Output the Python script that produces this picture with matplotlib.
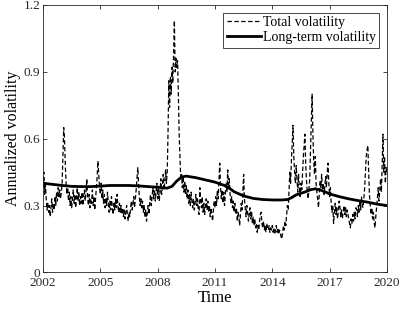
import numpy as np
import matplotlib
matplotlib.use("Agg")
import matplotlib.pyplot as plt

plt.rcParams['font.family'] = ['Liberation Serif', 'DejaVu Serif']

# total volatility, 24 readings per year, 2002.0 .. 2020.0
row2002 = [0.38, 0.45, 0.35, 0.40, 0.33, 0.28, 0.31, 0.27, 0.30, 0.25, 0.29, 0.33, 0.27, 0.31, 0.28, 0.34, 0.30, 0.36, 0.32, 0.38, 0.34, 0.37, 0.33, 0.36]
row2003 = [0.40, 0.52, 0.65, 0.60, 0.48, 0.40, 0.35, 0.38, 0.32, 0.36, 0.30, 0.34, 0.29, 0.33, 0.37, 0.31, 0.35, 0.29, 0.33, 0.38, 0.32, 0.36, 0.30, 0.34]
row2004 = [0.31, 0.36, 0.30, 0.34, 0.37, 0.32, 0.36, 0.42, 0.34, 0.30, 0.35, 0.29, 0.33, 0.31, 0.37, 0.30, 0.34, 0.28, 0.33, 0.38, 0.43, 0.50, 0.44, 0.38]
row2005 = [0.35, 0.40, 0.33, 0.37, 0.31, 0.35, 0.29, 0.33, 0.30, 0.36, 0.31, 0.27, 0.32, 0.28, 0.34, 0.29, 0.26, 0.31, 0.28, 0.33, 0.29, 0.35, 0.30, 0.27]
row2006 = [0.31, 0.27, 0.30, 0.26, 0.29, 0.25, 0.28, 0.24, 0.27, 0.30, 0.26, 0.23, 0.27, 0.25, 0.29, 0.32, 0.28, 0.31, 0.34, 0.29, 0.33, 0.37, 0.42, 0.47]
row2007 = [0.40, 0.34, 0.30, 0.33, 0.29, 0.32, 0.27, 0.30, 0.25, 0.28, 0.23, 0.27, 0.30, 0.26, 0.31, 0.35, 0.30, 0.34, 0.38, 0.33, 0.37, 0.32, 0.36, 0.40]
row2008 = [0.33, 0.38, 0.32, 0.36, 0.42, 0.35, 0.39, 0.44, 0.37, 0.41, 0.46, 0.40, 0.45, 0.62, 0.86, 0.74, 0.88, 0.80, 0.92, 0.85, 0.98, 1.13, 0.90, 0.96]
row2009 = [0.92, 0.95, 0.80, 0.62, 0.52, 0.42, 0.44, 0.38, 0.43, 0.36, 0.41, 0.35, 0.39, 0.33, 0.37, 0.31, 0.35, 0.30, 0.36, 0.32, 0.29, 0.33, 0.28, 0.31]
row2010 = [0.35, 0.30, 0.33, 0.28, 0.26, 0.38, 0.32, 0.29, 0.34, 0.27, 0.31, 0.26, 0.30, 0.33, 0.28, 0.32, 0.27, 0.30, 0.25, 0.29, 0.26, 0.23, 0.28, 0.32]
row2011 = [0.29, 0.34, 0.30, 0.37, 0.33, 0.41, 0.49, 0.38, 0.33, 0.37, 0.31, 0.36, 0.30, 0.35, 0.40, 0.36, 0.46, 0.38, 0.42, 0.35, 0.31, 0.34, 0.29, 0.32]
row2012 = [0.27, 0.31, 0.26, 0.29, 0.23, 0.27, 0.25, 0.21, 0.26, 0.31, 0.28, 0.36, 0.44, 0.33, 0.29, 0.25, 0.30, 0.27, 0.23, 0.26, 0.29, 0.24, 0.27, 0.22]
row2013 = [0.25, 0.21, 0.24, 0.20, 0.22, 0.18, 0.21, 0.19, 0.23, 0.26, 0.27, 0.22, 0.20, 0.23, 0.19, 0.21, 0.18, 0.22, 0.20, 0.19, 0.21, 0.18, 0.20, 0.19]
row2014 = [0.21, 0.18, 0.20, 0.17, 0.19, 0.21, 0.18, 0.20, 0.17, 0.19, 0.18, 0.16, 0.15, 0.18, 0.21, 0.19, 0.23, 0.21, 0.26, 0.30, 0.28, 0.36, 0.45, 0.40]
row2015 = [0.50, 0.58, 0.66, 0.52, 0.45, 0.40, 0.48, 0.42, 0.36, 0.44, 0.38, 0.34, 0.40, 0.37, 0.45, 0.52, 0.57, 0.62, 0.48, 0.41, 0.36, 0.33, 0.37, 0.42]
row2016 = [0.55, 0.68, 0.80, 0.62, 0.50, 0.44, 0.52, 0.40, 0.36, 0.33, 0.29, 0.35, 0.41, 0.38, 0.44, 0.37, 0.40, 0.35, 0.39, 0.43, 0.38, 0.45, 0.49, 0.40]
row2017 = [0.34, 0.38, 0.31, 0.27, 0.30, 0.22, 0.27, 0.31, 0.26, 0.29, 0.24, 0.28, 0.32, 0.29, 0.25, 0.28, 0.24, 0.27, 0.30, 0.26, 0.29, 0.25, 0.28, 0.26]
row2018 = [0.24, 0.22, 0.20, 0.24, 0.22, 0.26, 0.23, 0.27, 0.24, 0.29, 0.28, 0.25, 0.30, 0.27, 0.32, 0.28, 0.34, 0.30, 0.29, 0.33, 0.38, 0.45, 0.52, 0.55]
row2019 = [0.57, 0.46, 0.35, 0.30, 0.26, 0.29, 0.24, 0.27, 0.22, 0.20, 0.25, 0.29, 0.33, 0.38, 0.32, 0.37, 0.42, 0.36, 0.48, 0.62, 0.45, 0.52, 0.40, 0.47]
last2020 = [0.44]

total_vol = (row2002 + row2003 + row2004 + row2005 + row2006 + row2007 + row2008 + row2009 + row2010
             + row2011 + row2012 + row2013 + row2014 + row2015 + row2016 + row2017 + row2018 + row2019 + last2020)
total_t = 2002 + np.arange(len(total_vol)) / 24

# long-term volatility
lt_years = [2002.0, 2002.5, 2003.0, 2003.5, 2004.0, 2004.5, 2005.0, 2005.5, 2006.0, 2006.5, 2007.0, 2007.5,
            2008.0, 2008.5, 2008.75, 2009.0, 2009.25, 2009.5, 2010.0, 2010.5, 2011.0, 2011.5, 2011.75, 2012.0,
            2012.5, 2013.0, 2013.5, 2014.0, 2014.5, 2014.8, 2015.0, 2015.25, 2015.5, 2015.75, 2016.0, 2016.25,
            2016.5, 2016.75, 2017.0, 2017.5, 2018.0, 2018.5, 2019.0, 2019.5, 2020.0]
lt_values = [0.400, 0.395, 0.390, 0.386, 0.385, 0.385, 0.387, 0.390, 0.390, 0.390, 0.388, 0.385,
             0.382, 0.378, 0.386, 0.410, 0.428, 0.432, 0.425, 0.415, 0.405, 0.390, 0.378, 0.362,
             0.343, 0.332, 0.327, 0.325, 0.325, 0.327, 0.335, 0.348, 0.355, 0.362, 0.371, 0.375,
             0.370, 0.362, 0.352, 0.340, 0.330, 0.322, 0.315, 0.306, 0.300]

xticks = [2002, 2005, 2008, 2011, 2014, 2017, 2020]
yticks = [0, 0.3, 0.6, 0.9, 1.2]
ylabels = ['0', '0.3', '0.6', '0.9', '1.2']

fig = plt.figure(figsize=(4.07, 3.12), dpi=100)
ax = fig.add_axes([0.1057, 0.127, 0.845, 0.857])

ax.plot(total_t, total_vol, color='black', linestyle=(0, (3.5, 2)), linewidth=0.9, label='Total volatility')
ax.plot(lt_years, lt_values, color='black', linewidth=2.0, label='Long-term volatility')

ax.set_xlim(2002, 2020)
ax.set_ylim(0, 1.2)
ax.set_xticks(xticks)
ax.set_xticklabels([str(x) for x in xticks])
ax.set_yticks(yticks)
ax.set_yticklabels(ylabels)
ax.tick_params(direction='in', top=True, right=True, labelsize=9.5, length=3, width=0.6, colors='#262626', pad=2)
ax.tick_params(axis='x', pad=3)
for s in ax.spines.values():
    s.set_color('#262626')
    s.set_linewidth(0.6)

ax.set_xlabel('Time', fontsize=12, labelpad=1)
ax.set_ylabel('Annualized volatility', fontsize=11.5, labelpad=2)

leg = ax.legend(loc='upper right', fontsize=10, fancybox=False, framealpha=1, edgecolor='#262626',
                handlelength=2.5, handletextpad=0.1, borderpad=0.25, labelspacing=0.15,
                borderaxespad=0.55)
leg.get_frame().set_linewidth(0.6)

fig.savefig('out.png', dpi=100)
